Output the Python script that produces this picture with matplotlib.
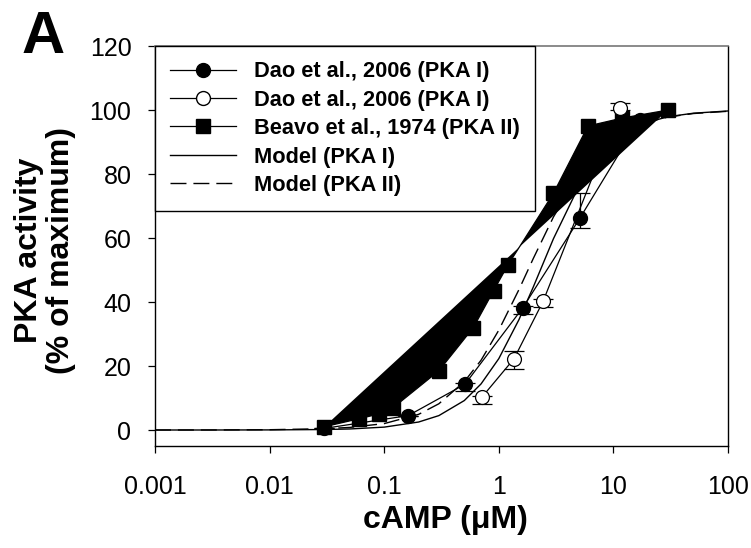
"""PKA activation by cAMP: data vs model (panel A)."""

import matplotlib

matplotlib.use("Agg")
import matplotlib.pyplot as plt
from matplotlib.lines import Line2D
from matplotlib.ticker import FixedFormatter, FixedLocator, NullLocator

plt.rcParams["font.family"] = ["Liberation Sans", "DejaVu Sans"]

# Beavo et al., 1974 (PKA II), filled squares
beavo_x = [0.03, 0.06, 0.09, 0.12, 0.3, 0.6, 0.9, 1.2, 3, 6, 12, 30]
beavo_y = [1, 3.5, 5, 7, 18.5, 32, 43.5, 51.5, 74, 95, 97.5, 100]

# Dao et al., 2006 (PKA I), filled circles
dao_filled_x = [0.03, 0.162, 0.507, 1.62, 5.12, 17]
dao_filled_y = [0.5, 4.5, 14.3, 38.2, 66.3, 97]
dao_filled_err_lo = [0, 0, 2.1, 2.1, 3.1, 0]
dao_filled_err_hi = [0, 0, 0.5, 0.5, 7.8, 0]

# Dao et al., 2006 (PKA I), open circles
dao_open_x = [0.71, 1.36, 2.44, 11.4]
dao_open_y = [10.2, 22.3, 40.3, 100.6]
dao_open_err_lo = [2.2, 3.3, 2.0, 0.5]
dao_open_err_hi = [0.5, 2.4, 0.5, 1.7]

# model curves
model_x = [0.001, 0.003, 0.01, 0.03, 0.05, 0.1, 0.2, 0.3, 0.5, 0.7, 1, 1.5,
           2, 3, 5, 7, 10, 20, 30, 50, 100]
model_pka1 = [0, 0, 0.03, 0.15, 0.32, 0.9, 2.5, 4.5, 9.2, 14.4, 22.3, 34.5,
              44.7, 59.8, 76.2, 84.2, 90.1, 96.2, 97.9, 99.0, 99.7]
model_pka2 = [0, 0.01, 0.09, 0.4, 0.8, 2.0, 4.9, 8.2, 15.1, 21.8, 31.2, 43.9,
              53.6, 66.6, 79.9, 86.2, 91.0, 96.3, 97.8, 98.9, 99.6]

x_ticks = [0.001, 0.01, 0.1, 1, 10, 100]
x_tick_labels = ["0.001", "0.01", "0.1", "1", "10", "100"]
y_ticks = [0, 20, 40, 60, 80, 100, 120]

labels = [
    "Dao et al., 2006 (PKA I)",
    "Dao et al., 2006 (PKA I)",
    "Beavo et al., 1974 (PKA II)",
    "Model (PKA I)",
    "Model (PKA II)",
]

DASH = (0, (11.5, 5))
MS = 10

fig = plt.figure(figsize=(7.51, 5.48), dpi=100)
ax = fig.add_axes([155 / 751, 102 / 548, 573 / 751, 400 / 548])
ax.set_xscale("log")

# the squares series is drawn as a closed, filled polygon
ax.fill(beavo_x, beavo_y, color="k", lw=0, zorder=2)
ax.plot(beavo_x, beavo_y, "k-", lw=0.9, zorder=3)

ax.plot(model_x, model_pka1, "k-", lw=1.0, zorder=3)
ax.plot(model_x, model_pka2, "k", ls=DASH, lw=1.0, zorder=3)

ax.errorbar(dao_filled_x, dao_filled_y,
            yerr=[dao_filled_err_lo, dao_filled_err_hi], fmt="none",
            ecolor="k", elinewidth=0.9, capsize=7, capthick=0.9, zorder=3)
ax.plot(dao_filled_x, dao_filled_y, "k-", lw=0.9, zorder=3)
ax.errorbar(dao_open_x, dao_open_y,
            yerr=[dao_open_err_lo, dao_open_err_hi], fmt="none",
            ecolor="k", elinewidth=0.9, capsize=7, capthick=0.9, zorder=3)
ax.plot(dao_open_x, dao_open_y, "k-", lw=0.9, zorder=3)

ax.plot(beavo_x, beavo_y, "ks", ms=MS, lw=0, zorder=4)
ax.plot(dao_filled_x, dao_filled_y, "ko", ms=MS, lw=0, zorder=5)
ax.plot(dao_open_x, dao_open_y, "o", mfc="white", mec="k", mew=0.9,
        ms=MS, lw=0, zorder=5)

ax.set_xlim(0.001, 100)
ax.set_ylim(-5, 120)
ax.xaxis.set_major_locator(FixedLocator(x_ticks))
ax.xaxis.set_major_formatter(FixedFormatter(x_tick_labels))
ax.xaxis.set_minor_locator(NullLocator())
ax.yaxis.set_major_locator(FixedLocator(y_ticks))
ax.tick_params(direction="out", length=5, width=0.9, labelsize=18)
ax.tick_params(axis="x", pad=16)
ax.tick_params(axis="y", pad=12)

for side in ["left", "bottom", "right"]:
    ax.spines[side].set_linewidth(1.0)
    ax.spines[side].set_color("k")
ax.spines["top"].set_linewidth(1.2)
ax.spines["top"].set_color("#777777")

handles = [
    Line2D([], [], color="k", lw=0.9, marker="o", ms=MS),
    Line2D([], [], color="k", lw=0.9, marker="o", ms=MS, mfc="white"),
    Line2D([], [], color="k", lw=0.9, marker="s", ms=MS),
    Line2D([], [], color="k", lw=1.0),
    Line2D([], [], color="k", lw=1.0, ls=DASH),
]
leg = ax.legend(handles, labels, loc="upper left", bbox_to_anchor=(0, 1),
                borderaxespad=0, fancybox=False, edgecolor="k", framealpha=1,
                prop={"weight": "bold", "size": 15.7}, handlelength=3.0,
                labelspacing=0.34, borderpad=0.7, handletextpad=0.85)
leg.get_frame().set_linewidth(1.0)
leg.set_zorder(10)

fig.text(45 / 751, 1 - 250 / 548, "PKA activity\n(% of maximum)", rotation=90,
         ha="center", va="center", fontsize=23, fontweight="bold",
         linespacing=1.05)
fig.text(445 / 751, 1 - 520 / 548, "cAMP (\u03bcM)", ha="center", va="center",
         fontsize=23, fontweight="bold")
fig.text(22 / 751, 1 - 53 / 548, "A", ha="left", va="baseline", fontsize=43,
         fontweight="bold")

fig.savefig("out.png", dpi=100)
